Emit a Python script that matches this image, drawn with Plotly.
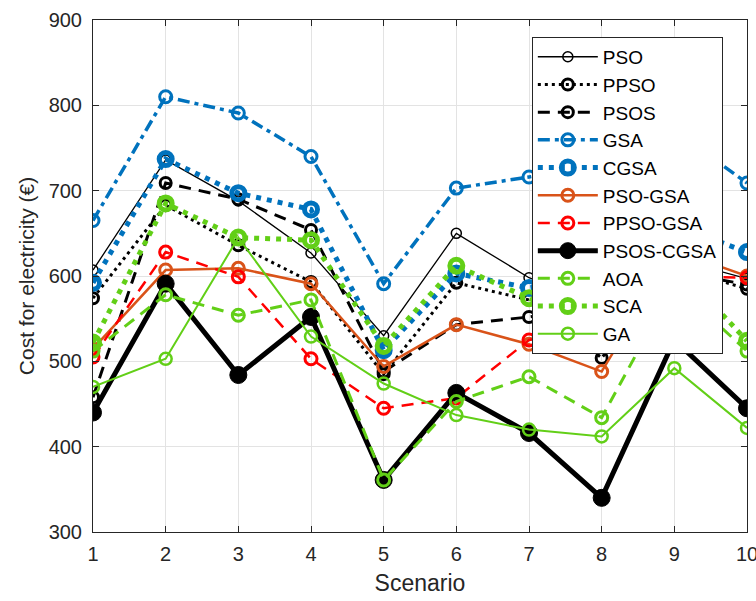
import plotly.graph_objects as go

scenarios = [1, 2, 3, 4, 5, 6, 7, 8, 9, 10]

pso       = [607, 736, 688, 627, 530, 650, 598, 565, 620, 597]
ppso      = [574, 683, 636, 593, 485, 592, 572, 504, 610, 585]
psos      = [458, 709, 690, 654, 488, 543, 552, 565, 605, 590]
gsa       = [665, 810, 791, 740, 591, 703, 716, 730, 770, 709]
cgsa      = [592, 737, 697, 678, 513, 603, 586, 600, 660, 628]
pso_gsa   = [515, 607, 609, 591, 494, 543, 520, 488, 630, 600]
ppso_gsa  = [505, 628, 599, 503, 445, 457, 525, 540, 600, 598]
psos_cgsa = [440, 591, 484, 552, 361, 463, 416, 340, 525, 445]
aoa       = [512, 578, 554, 572, 361, 453, 482, 434, 590, 512]
sca       = [522, 685, 645, 642, 518, 612, 574, 531, 615, 524]
ga        = [470, 503, 645, 529, 474, 437, 420, 412, 492, 422]

BLUE = "#0072BD"
ORANGE = "#D95319"
RED = "#FF0000"
GREEN = "#62CF17"
BLACK = "#000000"
FONT = "Liberation Sans, Arial, Helvetica"

series = [
    ("PSO", pso, BLACK, "solid", 1.3, "circle-open", 10, 1.5),
    ("PPSO", ppso, BLACK, "3px,4px", 3, "circle-open", 11, 3),
    ("PSOS", psos, BLACK, "12px,8px", 3, "circle-open", 11, 3),
    ("GSA", gsa, BLUE, "12px,5px,4px,5px", 3.5, "circle-open", 12, 3),
    ("CGSA", cgsa, BLUE, "5px,6px", 5, "circle-open", 13, 5),
    ("PSO-GSA", pso_gsa, ORANGE, "solid", 2.5, "circle-open", 12, 3),
    ("PPSO-GSA", ppso_gsa, RED, "12px,8px", 2.5, "circle-open", 12, 3),
    ("PSOS-CGSA", psos_cgsa, BLACK, "solid", 5, "circle", 17, 1),
    ("AOA", aoa, GREEN, "12px,8px", 3, "circle-open", 12, 3),
    ("SCA", sca, GREEN, "5px,6px", 5, "circle-open", 13, 5),
    ("GA", ga, GREEN, "solid", 2, "circle-open", 12, 2.5),
]

fig = go.Figure()
for name, vals, col, dash, lw, sym, ms, mlw in series:
    fig.add_trace(go.Scatter(
        x=scenarios, y=vals, name=name, mode="lines+markers",
        line=dict(color=col, width=lw, dash=dash),
        marker=dict(symbol=sym, size=ms, color=col,
                    line=dict(width=mlw, color=col)),
    ))

axis_common = dict(
    showline=True, linecolor="#262626", linewidth=1, mirror="ticks",
    ticks="inside", ticklen=6, tickcolor="#262626",
    showgrid=True, gridcolor="#e3e3e3", gridwidth=1,
    zeroline=False, ticklabeloverflow="allow", automargin=False,
    tickfont=dict(family=FONT, size=20, color="#262626"),
)

fig.update_layout(
    width=756, height=601,
    margin=dict(l=93, r=9, t=20, b=69),
    paper_bgcolor="white", plot_bgcolor="white",
    font=dict(family=FONT, color="#262626"),
    xaxis=dict(range=[1, 10], tickvals=scenarios, ticklabelstandoff=4,
               title=dict(text="Scenario", font=dict(size=23), standoff=10), **axis_common),
    yaxis=dict(range=[300, 900], tickvals=[300, 400, 500, 600, 700, 800, 900], ticklabelstandoff=6,
               title=dict(text="Cost for electricity (€)", font=dict(size=21), standoff=8), **axis_common),
    legend=dict(x=0.671, y=0.967, xanchor="left", yanchor="top",
                bgcolor="white", bordercolor="#262626", borderwidth=1,
                font=dict(family=FONT, size=19, color="#000000"),
                itemwidth=60, tracegroupgap=0),
    showlegend=True,
)

fig.write_html("out.html")
